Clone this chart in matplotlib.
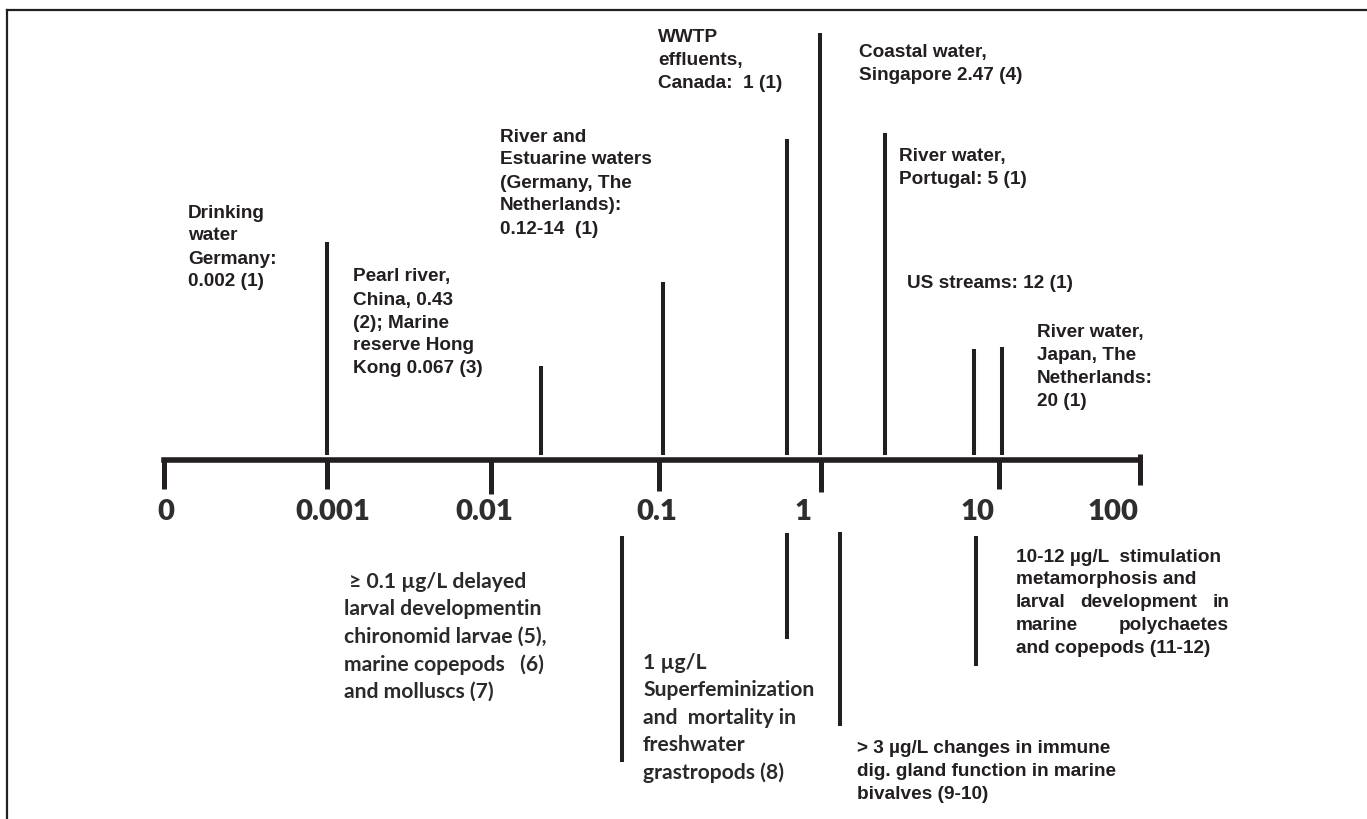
import numpy as np
import matplotlib
matplotlib.use("Agg")
import matplotlib.pyplot as plt
from matplotlib.lines import Line2D

# x axis in decades: -4 stands for "0", -3 for 0.001 ... 2 for 100 (ug/L)
tick_labels = ["0", "0.001", "0.01", "0.1", "1", "10", "100"]
tick_pos = [-4.0, -3.0, -1.99, -0.96, 0.04, 1.13, 2.0]
tick_depth = [29, 29, 34, 31, 32, 29, 25]
label_pos = [-3.99, -2.96, -2.03, -0.97, -0.07, 1.0, 1.835]

# environmental concentrations, stems above the axis
env_pos = [-3.0, -1.68, -0.93, -0.17, 0.03, 0.43, 0.98, 1.15]
env_top = [218, 94, 178, 321, 427, 327, 111, 113]
env_text = [
    ["Drinking", "water", "Germany:", "0.002 (1)"],
    ["Pearl river,", "China, 0.43", "(2); Marine", "reserve Hong", "Kong 0.067 (3)"],
    ["River and", "Estuarine waters", "(Germany, The", "Netherlands):", "0.12-14  (1)"],
    ["WWTP", "effluents,", "Canada:  1 (1)"],
    ["Coastal water,", "Singapore 2.47 (4)"],
    ["River water,", "Portugal: 5 (1)"],
    ["US streams: 12 (1)"],
    ["River water,", "Japan, The", "Netherlands:", "20 (1)"],
]
env_text_x = [-3.852, -2.838, -1.934, -0.963, 0.272, 0.518, 0.568, 1.367]
env_text_y = [248, 184, 324, 424, 408, 304, 178, 128]

# effect levels, stems below the axis
eff_pos = [-1.185, -0.17, 0.156, 0.992]
eff_top = [-76, -73, -72, -76]
eff_bottom = [-302, -179, -266, -206]
eff_text = [
    [" \u2265 0.1 \u00b5g/L delayed", "larval developmentin", "chironomid larvae (5),",
     "marine copepods   (6)", "and molluscs (7)"],
    ["1 \u00b5g/L", "Superfeminization", "and  mortality in", "freshwater", "grastropods (8)"],
    ["10-12 \u00b5g/L  stimulation", "metamorphosis and", "larval development in",
     "marine polychaetes", "and copepods (11-12)"],
    ["> 3 \u00b5g/L changes in immune", "dig. gland function in marine", "bivalves (9-10)"],
]
eff_text_x = [-2.893, -1.055, 1.238, 0.260]
eff_text_y = [-121, -202, -96, -288]

ink = "#231f20"
arial = ["Liberation Sans", "DejaVu Sans"]
calibri = ["Lato", "DejaVu Sans"]

fig = plt.figure(figsize=(13.67, 8.2), dpi=100)
ax = fig.add_axes([0, 0, 1, 1])
ax.set_xlim(-5.0082, 3.3953)
ax.set_ylim(-359, 461)
ax.axis("off")

# outer frame (top and left only)
fig.add_artist(Line2D([7 / 1367, 1], [1 - 11 / 820] * 2, color=ink, lw=1.6,
                      transform=fig.transFigure))
fig.add_artist(Line2D([7 / 1367] * 2, [0, 1 - 11 / 820], color=ink, lw=1.6,
                      transform=fig.transFigure))

# main axis
ax.hlines(0, tick_pos[0], tick_pos[-1], color=ink, lw=4.0, capstyle="projecting")
ax.vlines(tick_pos, -np.array(tick_depth), 0, color=ink, lw=3.6, capstyle="butt")
ax.vlines(tick_pos[-1], 0, 6, color=ink, lw=3.6, capstyle="butt")
for p, lab in zip(label_pos, tick_labels):
    ax.text(p, -51, lab, ha="center", va="center", fontsize=21,
            fontweight="heavy", family=calibri, color="#2e2e2e")

# stems
ax.vlines(env_pos, 5, env_top, color=ink, lw=2.9, capstyle="butt")
ax.vlines(eff_pos, eff_bottom, eff_top, color=ink, lw=2.9, capstyle="butt")

for lines, x, y in zip(env_text, env_text_x, env_text_y):
    for i, s in enumerate(lines):
        ax.text(x, y - i * 23, s, ha="left", va="center", fontsize=13.7,
                fontweight="bold", family=arial, color=ink)

fig.canvas.draw()
renderer = fig.canvas.get_renderer()
px_per_unit = ax.transData.transform((1, 0))[0] - ax.transData.transform((0, 0))[0]


def justified(x0, x1, y, s, **kw):
    words = s.split()
    ts = [ax.text(0, y, w, ha="left", va="center", **kw) for w in words]
    ws = [t.get_window_extent(renderer).width / px_per_unit for t in ts]
    gap = (x1 - x0 - sum(ws)) / (len(words) - 1)
    x = x0
    for t, w in zip(ts, ws):
        t.set_x(x)
        x += w + gap


for k, (lines, x, y) in enumerate(zip(eff_text, eff_text_x, eff_text_y)):
    if k < 2:
        kw = dict(fontsize=15.2, fontweight=700, family=calibri, color="#2a2a2a")
        step = 27.5
    else:
        kw = dict(fontsize=13.7, fontweight="bold", family=arial, color=ink)
        step = 23
    for i, s in enumerate(lines):
        if k == 2 and i in (2, 3):
            justified(x, 2.547, y - i * step, s, **kw)
        else:
            ax.text(x, y - i * step, s, ha="left", va="center", **kw)

fig.savefig("out.png", dpi=100, facecolor="white")
